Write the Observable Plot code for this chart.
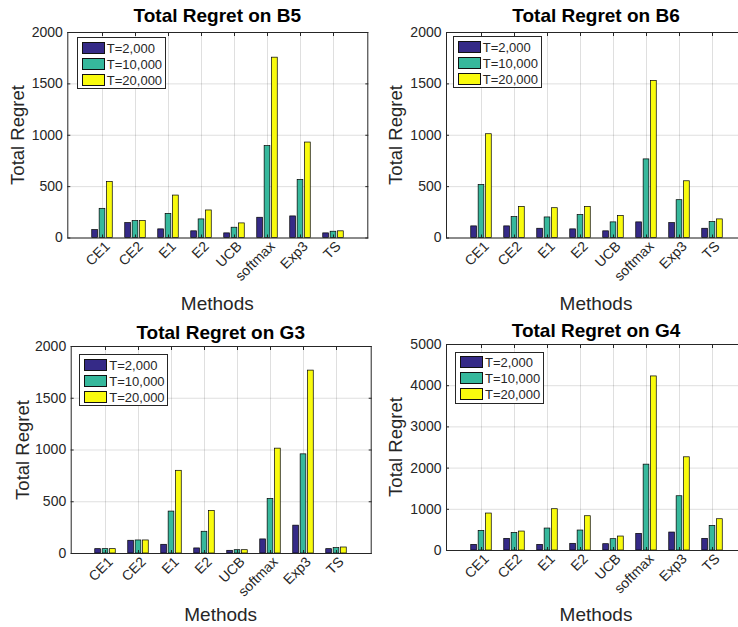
<!DOCTYPE html>
<html>
<head>
<meta charset="utf-8">
<script src="https://cdn.jsdelivr.net/npm/d3@7"></script>
<script src="https://cdn.jsdelivr.net/npm/@observablehq/plot@0.6"></script>
<style>
  body { margin: 0; background: #fff; }
  #root { position: relative; width: 738px; height: 627px; overflow: hidden;
          font-family: "Liberation Sans", Arial, sans-serif; color: #262626; background: #fff; }
  .panel { position: absolute; }
  .title { position: absolute; font-weight: bold; font-size: 19px; line-height: 19px; color: #000;
           white-space: nowrap; transform: translate(-50%, -50%); }
  .ylab { position: absolute; font-size: 18.5px; line-height: 18.5px; white-space: nowrap;
          transform: translate(-50%, -50%) rotate(-90deg); }
  .xlab { position: absolute; font-size: 19px; line-height: 19px; white-space: nowrap;
          transform: translate(-50%, -50%); }
  .legend { position: absolute; width: 89px; height: 52px; box-sizing: border-box;
            border: 1px solid #262626; background: #fff; }
  .sw { position: absolute; left: 4px; width: 23px; height: 12px; box-sizing: border-box; border: 1px solid #111; }
  .lt { position: absolute; left: 29px; font-size: 13px; line-height: 13px; color: #262626; white-space: nowrap; }
</style>
</head>
<body>
<div id="root"></div>
<script>
// ---- data ----
const methods = ["CE1", "CE2", "E1", "E2", "UCB", "softmax", "Exp3", "TS"];
const horizons = ["T=2,000", "T=10,000", "T=20,000"];

const b5_T2000  = [77, 145, 84, 65, 45, 197, 210, 45];
const b5_T10000 = [284, 165, 235, 181, 100, 894, 565, 61];
const b5_T20000 = [545, 165, 413, 268, 142, 1755, 929, 65];

const b6_T2000  = [113, 113, 90, 84, 65, 152, 145, 90];
const b6_T10000 = [516, 203, 200, 223, 152, 765, 368, 155];
const b6_T20000 = [1010, 303, 290, 303, 213, 1529, 552, 181];

const g3_T2000  = [42, 123, 84, 49, 26, 136, 269, 42];
const g3_T10000 = [42, 126, 405, 210, 32, 527, 958, 52];
const g3_T20000 = [42, 126, 799, 411, 32, 1013, 1767, 58];

const g4_T2000  = [137, 283, 137, 162, 153, 404, 436, 283];
const g4_T10000 = [477, 428, 533, 485, 275, 2084, 1317, 598];
const g4_T20000 = [897, 460, 1002, 832, 339, 4225, 2262, 759];

const yTicks2000 = [0, 500, 1000, 1500, 2000];
const yTicks5000 = [0, 1000, 2000, 3000, 4000, 5000];

// ---- style / layout ----
const colors = ["#352A87", "#36B89C", "#F9FB0E"];
const ink = "#262626";
const font = "Liberation Sans, Arial, sans-serif";

const panels = [
  {title: "Total Regret on B5", series: [b5_T2000, b5_T10000, b5_T20000], ticks: yTicks2000,
   px: 0, py: 0, W: 372, H: 318, bl: 67.3, bt: 32, bb: 237.5,
   legend: [9.5, 5.3], ylabX: 17.5, xlabY: 303, titleY: 15},
  {title: "Total Regret on B6", series: [b6_T2000, b6_T10000, b6_T20000], ticks: yTicks2000,
   px: 372, py: 0, W: 380, H: 318, bl: 446, bt: 32, bb: 237.5,
   legend: [6.7, 4], ylabX: 396, xlabY: 303, titleY: 15},
  {title: "Total Regret on G3", series: [g3_T2000, g3_T10000, g3_T20000], ticks: yTicks2000,
   px: 0, py: 318, W: 372, H: 309, bl: 70.7, bt: 346, bb: 553,
   legend: [8.6, 8.3], ylabX: 22.5, xlabY: 614, titleY: 331.5},
  {title: "Total Regret on G4", series: [g4_T2000, g4_T10000, g4_T20000], ticks: yTicks5000,
   px: 372, py: 318, W: 380, H: 309, bl: 446, bt: 344, bb: 550,
   legend: [9, 7.7], ylabX: 396, xlabY: 614, titleY: 330}
];

const root = document.getElementById("root");
const innerW = 300;

function div(cls, css, text) {
  const d = document.createElement("div");
  d.className = cls;
  Object.assign(d.style, css);
  if (text != null) d.textContent = text;
  return d;
}

for (const p of panels) {
  const rows = methods.flatMap((m, i) => horizons.map((h, k) => ({method: m, horizon: h, k, value: p.series[k][i]})));
  const step = innerW / 9;
  const sub = step * 2 / 9;
  const gap = sub * 0.1;
  const ymax = p.ticks[p.ticks.length - 1];

  const bars = horizons.map((h, k) => Plot.barY(rows.filter(r => r.k === k), {
    x: "method", y: "value", fill: "horizon", stroke: "#000", strokeWidth: 0.7,
    insetLeft: k * sub + gap, insetRight: (2 - k) * sub + gap
  }));

  const chart = Plot.plot({
    width: p.W, height: p.H,
    marginLeft: p.bl - p.px,
    marginTop: p.bt - p.py,
    marginBottom: p.py + p.H - p.bb,
    marginRight: p.W - (p.bl - p.px) - innerW,
    style: {background: "transparent", maxWidth: "none", overflow: "visible", fontFamily: font, color: ink},
    x: {domain: methods, paddingInner: 1 / 3, paddingOuter: 2 / 3, align: 0.5},
    y: {domain: [0, ymax]},
    color: {domain: horizons, range: colors},
    marks: [
      Plot.gridX({stroke: ink, strokeOpacity: 0.15, strokeWidth: 1}),
      Plot.gridY(p.ticks, {stroke: ink, strokeOpacity: 0.15, strokeWidth: 1}),
      ...bars,
      Plot.frame({stroke: ink, strokeWidth: 1}),
      Plot.axisY(p.ticks, {tickSize: 0, tickPadding: 5, fontSize: 14, label: null, fill: ink, tickFormat: d => String(d)}),
      Plot.axisY(p.ticks, {anchor: "left", tickSize: -3, tickFormat: () => "", label: null, stroke: ink}),
      Plot.axisY(p.ticks, {anchor: "right", tickSize: -3, tickFormat: () => "", label: null, stroke: ink}),
      Plot.axisX({tickSize: 0, tickRotate: -45, tickPadding: 4, fontSize: 14, label: null, fill: ink, dx: 5, dy: 2}),
      Plot.axisX({anchor: "bottom", tickSize: -3, tickFormat: () => "", label: null, stroke: ink}),
      Plot.axisX({anchor: "top", tickSize: -3, tickFormat: () => "", label: null, stroke: ink})
    ]
  });

  const wrap = div("panel", {left: p.px + "px", top: p.py + "px"});
  wrap.appendChild(chart);
  root.appendChild(wrap);

  const cx = p.bl + innerW / 2;
  root.appendChild(div("title", {left: cx + "px", top: p.titleY + "px"}, p.title));
  root.appendChild(div("ylab", {left: p.ylabX + "px", top: (p.bt + p.bb) / 2 + "px"}, "Total Regret"));
  root.appendChild(div("xlab", {left: cx + "px", top: p.xlabY + "px"}, "Methods"));

  const lg = div("legend", {left: (p.bl + p.legend[0]) + "px", top: (p.bt + p.legend[1]) + "px"});
  horizons.forEach((h, k) => {
    lg.appendChild(div("sw", {top: (3.5 + 16 * k) + "px", background: colors[k]}));
    lg.appendChild(div("lt", {top: (3.5 + 16 * k) + "px"}, h));
  });
  root.appendChild(lg);
}
</script>
</body>
</html>
